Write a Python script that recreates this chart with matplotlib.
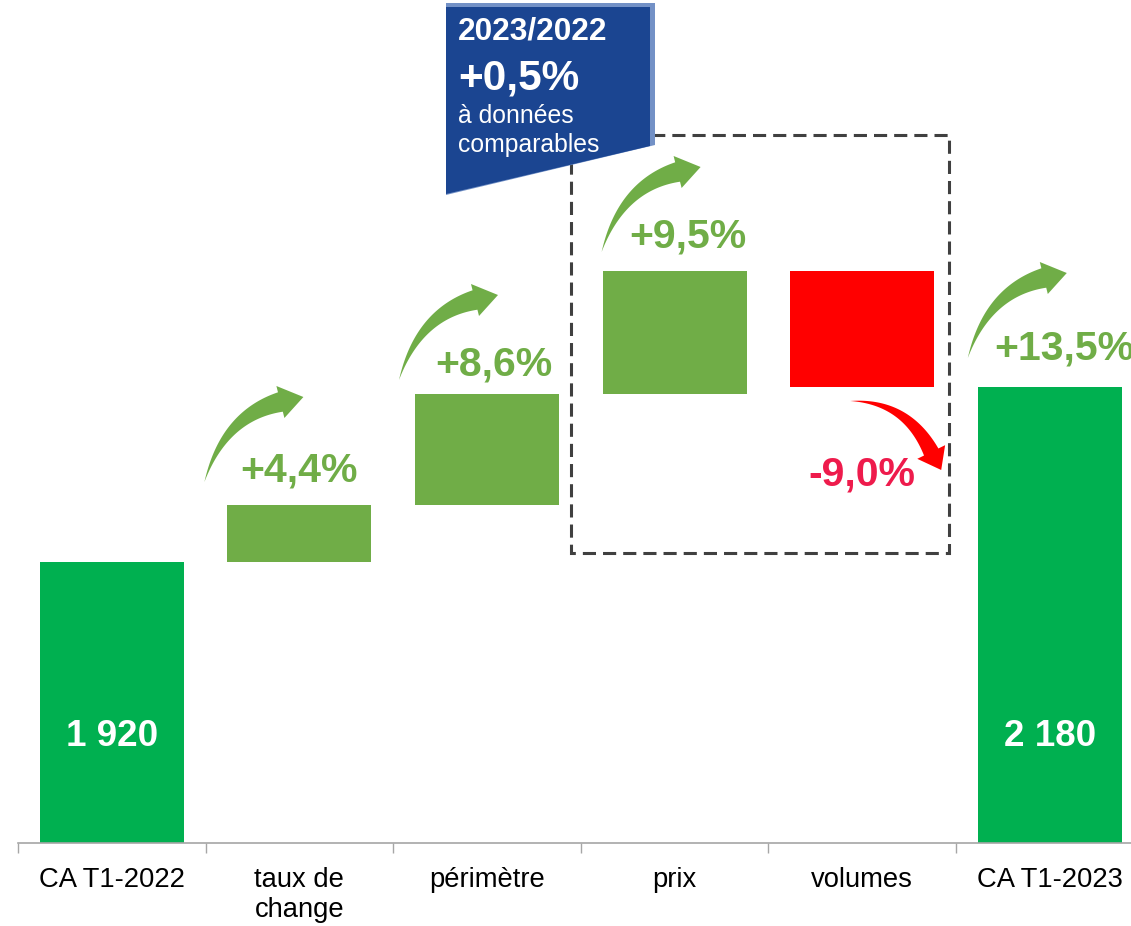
import numpy as np
import matplotlib
matplotlib.use("Agg")
import matplotlib.pyplot as plt
import matplotlib.transforms as mtransforms
from matplotlib.patches import Polygon, Rectangle

# ---------------- data ----------------
categories = ["CA T1-2022", "taux de\nchange", "périmètre", "prix", "volumes", "CA T1-2023"]
start_value_label = "1 920"
end_value_label = "2 180"
# bar heights as drawn in the (schematic, not to scale) chart
start_height = 281
step_heights = [57, 111, 123, -116]
end_height = 456
step_labels = ["+4,4%", "+8,6%", "+9,5%", "-9,0%"]
total_label = "+13,5%"
box_title = "2023/2022"
box_value = "+0,5%"
box_note = "à données\ncomparables"

# ---------------- style ----------------
plt.rcParams['font.family'] = ['Liberation Sans', 'DejaVu Sans']
C_TOTAL = '#00B050'
C_UP = '#70AD47'
C_DOWN = '#FF0000'
C_DOWN_TXT = '#EE1B4C'
C_BOX = '#1B4591'
C_BOX_EDGE = '#7391C6'
C_AXIS = '#A6A6A6'

W, H = 1131, 926
fig = plt.figure(figsize=(W / 100, H / 100), dpi=100)
ax = fig.add_axes([18 / W, 83 / H, 1125.6 / W, 843 / H])
ax.set_xlim(-0.5, 5.5)
ax.set_ylim(0, 843)
bw = 0.768

# bars
ax.bar(0, start_height, width=bw, color=C_TOTAL, zorder=2)
cum = start_height
tops, bottoms = [], []
for i, h in enumerate(step_heights, start=1):
    b = cum if h > 0 else cum + h
    ax.bar(i, abs(h), bottom=b, width=bw, color=C_UP if h > 0 else C_DOWN, zorder=2)
    bottoms.append(b)
    tops.append(b + abs(h))
    cum += h
ax.bar(5, end_height, width=bw, color=C_TOTAL, zorder=2)

# value labels in total bars
ax.annotate(start_value_label, (0, 0), xytext=(0, 97), textcoords='offset pixels',
            ha='center', va='baseline', color='white', fontsize=26.5, fontweight='bold')
ax.annotate(end_value_label, (5, 0), xytext=(0, 97), textcoords='offset pixels',
            ha='center', va='baseline', color='white', fontsize=26.5, fontweight='bold')

# percent labels
lab_off = [(0, 24), (7, 18), (13, 24)]
for i in range(3):
    ax.annotate(step_labels[i], (i + 1, tops[i]), xytext=lab_off[i], textcoords='offset pixels',
                ha='center', va='baseline', color=C_UP, fontsize=29.5, fontweight='bold',
                annotation_clip=False)
ax.annotate(step_labels[3], (4, bottoms[3]), xytext=(0, -98), textcoords='offset pixels',
            ha='center', va='baseline', color=C_DOWN_TXT, fontsize=29.5, fontweight='bold')
ax.annotate(total_label, (5, end_height), xytext=(15, 27), textcoords='offset pixels',
            ha='center', va='baseline', color=C_UP, fontsize=29.5, fontweight='bold',
            annotation_clip=False)


def curved_arrow(anchor, offset, p1, p2, tip, wend, hh, color, power=1.0):
    t = np.linspace(0, 1, 80)
    P0 = np.array([0.0, 0.0]); P1 = np.array(p1, float); P2 = np.array(p2, float)
    B = ((1 - t) ** 2)[:, None] * P0 + (2 * (1 - t) * t)[:, None] * P1 + (t ** 2)[:, None] * P2
    D = (2 * (1 - t))[:, None] * (P1 - P0) + (2 * t)[:, None] * (P2 - P1)
    D /= np.linalg.norm(D, axis=1)[:, None]
    N = np.stack([-D[:, 1], D[:, 0]], axis=1)
    w = wend * t ** power / 2
    L = B + N * w[:, None]
    R = B - N * w[:, None]
    Ne = N[-1]
    head = np.array([P2 + Ne * hh, np.array(tip, float), P2 - Ne * hh])
    pts = np.vstack([L, head, R[::-1]]) + np.array(offset, float)
    trans = mtransforms.Affine2D().scale(1, -1) + \
        mtransforms.ScaledTranslation(anchor[0], anchor[1], ax.transData)
    ax.add_patch(Polygon(pts, closed=True, transform=trans, facecolor=color,
                         edgecolor='none', clip_on=False, zorder=3))


up_shape = dict(p1=(20, -66), p2=(76, -80), tip=(99, -85), wend=20, hh=16.5, color=C_UP)
curved_arrow((1, tops[0]), (-95, -23), **up_shape)
curved_arrow((2, tops[1]), (-88, -14), **up_shape)
curved_arrow((3, tops[2]), (-73, -19), **up_shape)
curved_arrow((5, end_height), (-82, -29), **up_shape)
curved_arrow((4, bottoms[3]), (-12, 14), p1=(56, 0), p2=(81, 51), tip=(91, 69),
             wend=16, hh=15.5, color=C_DOWN)

# axes styling
for s in ['left', 'right', 'top']:
    ax.spines[s].set_visible(False)
ax.spines['bottom'].set_color(C_AXIS)
ax.spines['bottom'].set_linewidth(1.2)
ax.set_yticks([])
ax.set_xticks(np.arange(-0.5, 6, 1))
ax.tick_params(axis='x', which='major', length=7.2, width=1, color=C_AXIS, labelbottom=False)
ax.set_xticks(range(6), categories, minor=True)
ax.tick_params(axis='x', which='minor', length=0, pad=17.5, labelsize=19.7, labelcolor='black')
ax.patch.set_visible(False)

# figure pixel transform (image coords, y down)
pix = mtransforms.Affine2D().scale(1, -1).translate(0, H)

# dashed box around prix / volumes
fig.add_artist(Rectangle((571, 135), 378, 418, transform=pix, fill=False,
                         edgecolor='#404040', linewidth=2.2, linestyle=(0, (4.3, 2.3)),
                         zorder=1))

# blue info box
fig.add_artist(Polygon([(446, 3), (655, 3), (655, 145), (446, 195)], closed=True,
                       transform=pix, facecolor=C_BOX_EDGE, edgecolor='none', zorder=5))
fig.add_artist(Polygon([(446, 7), (650, 7), (650, 146), (446, 194)], closed=True,
                       transform=pix, facecolor=C_BOX, edgecolor='none', zorder=6))
fig.text(458, 39, box_title, transform=pix, color='white', fontsize=22.8,
         fontweight='bold', ha='left', va='baseline', zorder=7)
fig.text(458, 90, box_value, transform=pix, color='white', fontsize=30.5,
         fontweight='bold', ha='left', va='baseline', zorder=7)
note_lines = box_note.split("\n")
fig.text(458, 123, note_lines[0], transform=pix, color='white', fontsize=17.8,
         ha='left', va='baseline', zorder=7)
fig.text(458, 152, note_lines[1], transform=pix, color='white', fontsize=17.8,
         ha='left', va='baseline', zorder=7)

fig.savefig('out.png', dpi=100)
